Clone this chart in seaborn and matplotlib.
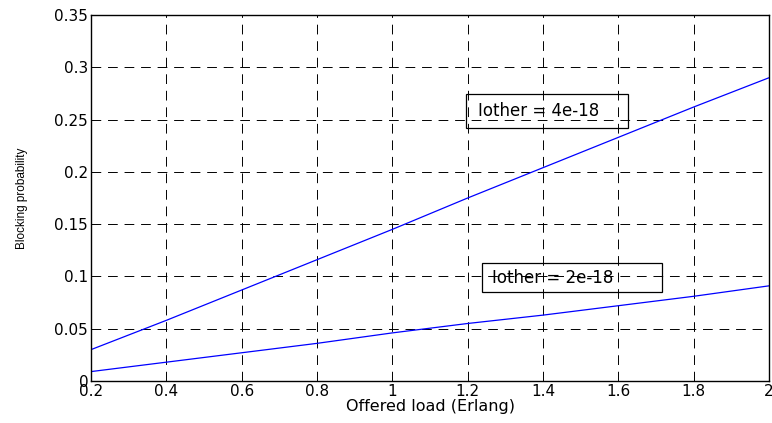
import numpy as np
import pandas as pd
import matplotlib
matplotlib.use("Agg")
import matplotlib.pyplot as plt
from matplotlib.patches import Rectangle
import seaborn as sns

# 数据
load = [0.2, 0.4, 0.6, 0.8, 1.0, 1.2, 1.4, 1.6, 1.8, 2.0]
block_4e18 = [0.030, 0.058, 0.087, 0.116, 0.145, 0.175, 0.204, 0.233, 0.262, 0.290]
block_2e18 = [0.009, 0.018, 0.027, 0.036, 0.046, 0.055, 0.063, 0.072, 0.081, 0.091]
labels = ["Iother = 4e-18", "Iother = 2e-18"]

df = pd.concat([
    pd.DataFrame({"load": load, "p": block_4e18, "case": labels[0]}),
    pd.DataFrame({"load": load, "p": block_2e18, "case": labels[1]}),
])

sns.set_style("white")
plt.rcParams["font.family"] = ["DejaVu Sans"]
plt.rcParams["text.color"] = "black"
plt.rcParams["axes.labelcolor"] = "black"

fig = plt.figure(figsize=(7.72, 4.23), dpi=100)
ax = fig.add_axes([91 / 772, 42 / 423, 678 / 772, 366 / 423])

sns.lineplot(data=df, x="load", y="p", hue="case", palette=["blue", "blue"],
             legend=False, linewidth=0.9, ax=ax)

ax.set_xlim(0.2, 2.0)
ax.set_ylim(0, 0.35)
ax.set_xticks(np.arange(0.2, 2.01, 0.2))
ax.set_xticklabels(["0.2", "0.4", "0.6", "0.8", "1", "1.2", "1.4", "1.6", "1.8", "2"])
ax.set_yticks(np.arange(0, 0.351, 0.05))
ax.set_yticklabels(["0", "0.05", "0.1", "0.15", "0.2", "0.25", "0.3", "0.35"])
ax.tick_params(direction="in", length=4, labelsize=11, colors="black",
               labelcolor="black", pad=2)
ax.grid(True, color="black", linestyle=(0, (10, 7)), linewidth=0.7)
for s in ax.spines.values():
    s.set_color("black")
    s.set_linewidth(1.0)

ax.set_xlabel("Offered load (Erlang)", fontsize=11.5, labelpad=0)
ax.set_ylabel("Blocking probability", fontsize=8.5, labelpad=19, family="Liberation Sans")


def px2data(px, py):
    # 像素坐标转数据坐标(参考图的像素位置)
    x = 0.2 + (px - 91) / 678 * 1.8
    y = 0.35 * (381 - py) / 366
    return x, y


# 文本框:参考图中 (左, 上, 右, 下) 像素
boxes = [(466, 94, 628, 128, 478), (482, 263, 662, 292, 492)]
for (l, t, r, b, tx), lab in zip(boxes, labels):
    x0, y0 = px2data(l, b)
    x1, y1 = px2data(r, t)
    ax.add_patch(Rectangle((x0, y0), x1 - x0, y1 - y0, facecolor="none",
                           edgecolor="black", linewidth=0.9, zorder=3))
    xt, _ = px2data(tx, 0)
    ax.text(xt, (y0 + y1) / 2, lab, fontsize=12, va="center", ha="left", zorder=4)

fig.savefig("out.png", dpi=100)
